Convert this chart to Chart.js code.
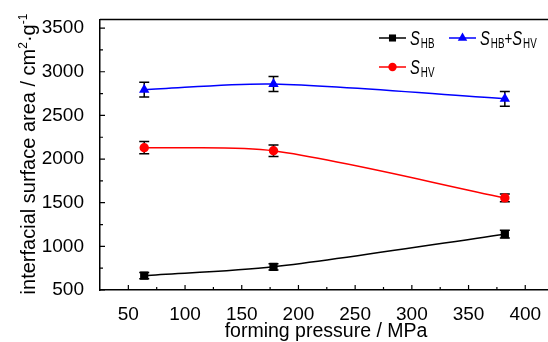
<!DOCTYPE html>
<html>
<head>
<meta charset="utf-8">
<script src="https://cdn.jsdelivr.net/npm/chart.js@4.4.0/dist/chart.umd.min.js"></script>
<style>
  html, body { margin: 0; padding: 0; background: #fff; overflow: hidden; }
  #wrap { width: 560px; height: 342px; }
</style>
</head>
<body>
<div id="wrap"><canvas id="myChart" width="560" height="342"></canvas></div>
<script>
// values
const pressure = [64, 178, 382];
const sHB = [665, 765, 1140];
const sHV = [2130, 2095, 1555];
const sTotal = [2795, 2860, 2690];
const errHB = [35, 35, 45];
const errHV = [70, 65, 45];
const errTotal = [85, 85, 85];

const xTicks = [50, 100, 150, 200, 250, 300, 350, 400];
const xMinor = [75, 125, 175, 225, 275, 325, 375, 425];
const yTicks = [500, 1000, 1500, 2000, 2500, 3000, 3500];
const yMinor = [750, 1250, 1750, 2250, 2750, 3250];

const FONT = '"Liberation Sans", Arial, sans-serif';

function pts(ys) {
  return pressure.map((x, i) => ({ x: x, y: ys[i] }));
}

function drawMarker(ctx, style, x, y, r, color) {
  ctx.fillStyle = color;
  ctx.beginPath();
  if (style === 'rect') {
    const s = r * Math.SQRT1_2;
    ctx.rect(x - s, y - s, 2 * s, 2 * s);
  } else if (style === 'circle') {
    ctx.arc(x, y, r, 0, Math.PI * 2);
  } else {
    const h = r * 1.5, w = r * Math.sqrt(3) / 2;
    ctx.moveTo(x, y - r);
    ctx.lineTo(x + w, y - r + h);
    ctx.lineTo(x - w, y - r + h);
    ctx.closePath();
  }
  ctx.fill();
}

// legend text pieces: [text, kind]
const legendItems = [
  { ds: 0, x: 379, y: 38, r: 5, parts: [['S', 'i'], ['HB', 'sub']] },
  { ds: 2, x: 449, y: 38, r: 5.5, parts: [['S', 'i'], ['HB', 'sub'], ['+', 'n'], ['S', 'i'], ['HV', 'sub']] },
  { ds: 1, x: 379, y: 67, r: 4.2, parts: [['S', 'i'], ['HV', 'sub']] }
];

// the legend text in the figure is set in a narrow face
function drawParts(ctx, parts, x, y) {
  ctx.save();
  ctx.translate(x, y);
  ctx.scale(0.7, 1);
  ctx.textAlign = 'left';
  ctx.textBaseline = 'alphabetic';
  ctx.fillStyle = '#000';
  let cx = 0;
  parts.forEach(p => {
    if (p[1] === 'i') ctx.font = 'italic 21px ' + FONT;
    else if (p[1] === 'sub') ctx.font = '14px ' + FONT;
    else ctx.font = '19px ' + FONT;
    const dy = p[1] === 'sub' ? 3 : 0;
    ctx.fillText(p[0], cx, dy);
    cx += ctx.measureText(p[0]).width + (p[1] === 'i' ? 1.5 : 0);
  });
  ctx.restore();
}

const errorBars = {
  id: 'errorBars',
  beforeDatasetsDraw(chart) {
    const ctx = chart.ctx, xs = chart.scales.x, ys = chart.scales.y;
    const errs = [errHB, errHV, errTotal];
    ctx.save();
    ctx.strokeStyle = '#000';
    ctx.lineWidth = 1.5;
    chart.data.datasets.forEach((ds, d) => {
      ds.data.forEach((p, i) => {
        const px = xs.getPixelForValue(p.x);
        const top = ys.getPixelForValue(p.y + errs[d][i]);
        const bot = ys.getPixelForValue(p.y - errs[d][i]);
        ctx.beginPath();
        ctx.moveTo(px, top); ctx.lineTo(px, bot);
        ctx.moveTo(px - 5, top); ctx.lineTo(px + 5, top);
        ctx.moveTo(px - 5, bot); ctx.lineTo(px + 5, bot);
        ctx.stroke();
      });
    });
    ctx.restore();
  }
};

const frame = {
  id: 'frame',
  afterDraw(chart) {
    const ctx = chart.ctx, a = chart.chartArea;
    const xs = chart.scales.x, ys = chart.scales.y;
    ctx.save();
    ctx.strokeStyle = '#000';
    ctx.lineWidth = 1.5;
    ctx.beginPath();
    ctx.moveTo(a.left, a.top); ctx.lineTo(a.right, a.top); ctx.lineTo(a.right, a.bottom);
    ctx.stroke();
    // inward ticks
    ctx.lineWidth = 1.2;
    ctx.beginPath();
    xTicks.forEach(v => { const p = xs.getPixelForValue(v); ctx.moveTo(p, a.bottom); ctx.lineTo(p, a.bottom - 5); });
    xMinor.forEach(v => { const p = xs.getPixelForValue(v); ctx.moveTo(p, a.bottom); ctx.lineTo(p, a.bottom - 3); });
    yTicks.forEach(v => { const p = ys.getPixelForValue(v); ctx.moveTo(a.left, p); ctx.lineTo(a.left + 5, p); });
    yMinor.forEach(v => { const p = ys.getPixelForValue(v); ctx.moveTo(a.left, p); ctx.lineTo(a.left + 3, p); });
    ctx.stroke();

    // legend
    legendItems.forEach(it => {
      const ds = chart.data.datasets[it.ds];
      ctx.strokeStyle = ds.borderColor;
      ctx.lineWidth = 1.5;
      ctx.beginPath();
      ctx.moveTo(it.x, it.y); ctx.lineTo(it.x + 27, it.y);
      ctx.stroke();
      drawMarker(ctx, ds.pointStyle, it.x + 13.5, it.y, it.r, ds.borderColor);
      drawParts(ctx, it.parts, it.x + 31, it.y + 7);
    });

    // axis titles
    ctx.fillStyle = '#000';
    ctx.font = '19.5px ' + FONT;
    ctx.textAlign = 'center';
    ctx.textBaseline = 'alphabetic';
    ctx.fillText('forming pressure / MPa', 326, 337);

    ctx.translate(35, 154);
    ctx.rotate(-Math.PI / 2);
    const pieces = [['interfacial surface area / cm', 0], ['2', 1], ['\u00b7g', 0], ['-1', 1]];
    let total = 0;
    pieces.forEach(p => {
      ctx.font = (p[1] ? '12px ' : '20px ') + FONT;
      total += ctx.measureText(p[0]).width;
    });
    let x = -total / 2;
    ctx.textAlign = 'left';
    pieces.forEach(p => {
      ctx.font = (p[1] ? '12px ' : '20px ') + FONT;
      ctx.fillText(p[0], x, p[1] ? -8 : 0);
      x += ctx.measureText(p[0]).width;
    });
    ctx.restore();
  }
};

const ctx = document.getElementById('myChart').getContext('2d');
const myChart = new Chart(ctx, {
  type: 'line',
  data: {
    datasets: [
      { label: 'S_HB', data: pts(sHB), borderColor: '#000000', backgroundColor: '#000000',
        pointStyle: 'rect', pointRadius: 5.8 },
      { label: 'S_HV', data: pts(sHV), borderColor: '#ff0000', backgroundColor: '#ff0000',
        pointStyle: 'circle', pointRadius: 4.7 },
      { label: 'S_HB+S_HV', data: pts(sTotal), borderColor: '#0000ff', backgroundColor: '#0000ff',
        pointStyle: 'triangle', pointRadius: 6 }
    ]
  },
  options: {
    responsive: false,
    animation: false,
    devicePixelRatio: 1,
    layout: { padding: { top: 17, right: 6.4, left: 0, bottom: 0 } },
    elements: {
      line: { borderWidth: 1.5, tension: 0.3, fill: false },
      point: { borderWidth: 0, hoverRadius: 6 }
    },
    plugins: { legend: { display: false }, tooltip: { enabled: false } },
    scales: {
      x: {
        type: 'linear', min: 25, max: 425,
        afterBuildTicks: s => { s.ticks = xTicks.map(v => ({ value: v })); },
        afterFit: s => { s.height = 52; },
        grid: { display: false },
        border: { display: true, color: '#000', width: 1.5 },
        ticks: { color: '#000', font: { family: FONT, size: 19 }, padding: 5, maxRotation: 0,
                 callback: v => String(v) }
      },
      y: {
        type: 'linear', min: 500, max: 3600,
        afterBuildTicks: s => { s.ticks = yTicks.map(v => ({ value: v })); },
        afterFit: s => { s.width = 100; },
        grid: { display: false },
        border: { display: true, color: '#000', width: 1.5 },
        ticks: { color: '#000', font: { family: FONT, size: 19 }, padding: 8,
                 callback: v => String(v) }
      }
    }
  },
  plugins: [errorBars, frame]
});
</script>
</body>
</html>
